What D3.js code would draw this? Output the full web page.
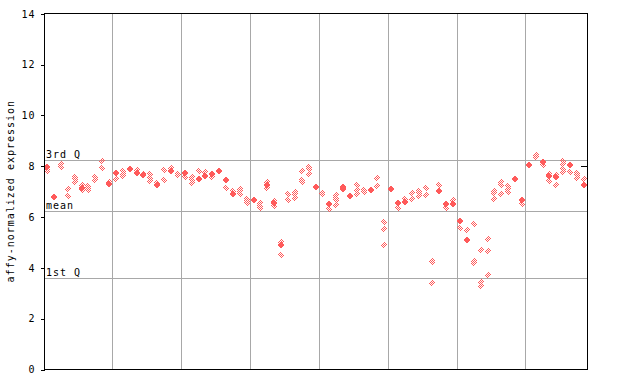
<!DOCTYPE html>
<html>
<head>
<meta charset="utf-8">
<script src="https://cdn.jsdelivr.net/npm/d3@7"></script>
<style>
  body { margin: 0; background: #fff; }
  text { font-family: "DejaVu Sans Mono", monospace; font-size: 10px; letter-spacing: 1px; fill: #000; }
</style>
</head>
<body>
<script>
// samples in groups of 10, separated by grey lines
const groupSizes = [10, 10, 10, 10, 10, 10, 10, 9];

// values drawn as solid diamonds, per sample
const filledVals = [
  [7.97], [6.78], [], [], [], [7.13], [], [], [], [7.28],
  [7.72], [], [7.89], [7.73], [7.62], [], [7.25], [], [7.8], [],
  [7.72], [], [7.48], [7.6], [7.68], [7.8], [7.44], [6.88], [], [],
  [6.65], [], [7.25], [6.52], [4.9], [], [], [], [], [7.17],
  [], [6.5], [], [7.17, 7.1], [6.81], [], [], [7.03], [], [],
  [7.09], [6.54], [6.58], [], [], [], [], [7.01], [6.5], [6.49],
  [5.83], [5.08], [], [], [], [], [], [], [7.48], [6.67],
  [8.02], [], [8.15], [7.58], [7.55], [], [8.03], [], [7.26]
];

// values drawn as checkered diamonds, per sample
const hatchedVals = [
  [7.85, 7.78], [], [8.05, 7.95], [7.08, 6.82], [7.56, 7.46, 7.37], [7.24, 7.05], [7.22, 7.13, 7.05], [7.55, 7.45], [8.19, 7.93], [7.37],
  [7.47], [7.79, 7.69, 7.6], [], [7.82], [7.69], [7.69, 7.5, 7.39], [7.34], [7.85, 7.42], [7.9], [7.69, 7.62],
  [7.54], [7.54, 7.43, 7.34], [7.81], [7.76], [7.56], [], [7.14], [7.0], [7.09, 6.99, 6.89], [6.71, 6.62, 6.53],
  [], [6.54, 6.42, 6.32], [7.35, 7.12], [6.61, 6.41], [4.98, 4.47], [6.87, 6.65], [6.97, 6.87, 6.74], [7.79, 7.42, 7.35], [7.97, 7.89, 7.69], [],
  [6.93, 6.87], [6.28], [6.84, 6.75, 6.67, 6.45], [], [], [7.24, 7.04, 6.87], [7.03, 6.96], [], [7.5, 7.22], [5.78, 5.51, 4.89],
  [], [6.33], [6.71], [6.92, 6.71], [7.01, 6.92, 6.8], [7.12, 6.83], [4.26, 4.2, 3.37], [7.24], [6.32], [6.67],
  [5.53], [5.49], [5.69, 4.26, 4.18], [4.67, 3.41, 3.28], [5.1, 4.63, 3.7], [7.0, 6.91, 6.71], [7.37, 7.26, 6.87], [7.21, 7.08, 6.97], [], [6.48],
  [], [8.43, 8.34], [8.02], [7.67, 7.41], [7.63, 7.26], [8.19, 8.07, 7.89, 7.76], [7.76], [7.73, 7.63, 7.5], [7.46]
];

const refLines = [
  { label: "3rd Q", value: 8.21 },
  { label: "mean", value: 6.21 },
  { label: "1st Q", value: 3.6 }
];
const yTicks = [0, 2, 4, 6, 8, 10, 12, 14];

const red = "#ff5a5a";
const plotLeft = 44, plotRight = 587, plotTop = 13.3, plotBottom = 369;
const nSamples = d3.sum(groupSizes);

const svg = d3.select("body").append("svg")
  .attr("width", 640)
  .attr("height", 384)
  .attr("shape-rendering", "crispEdges");

// checker pattern for the open diamonds
const pat = svg.append("defs").append("pattern")
  .attr("id", "checker")
  .attr("patternUnits", "userSpaceOnUse")
  .attr("width", 2).attr("height", 2);
pat.append("rect").attr("x", 0).attr("y", 0).attr("width", 1).attr("height", 1).attr("fill", red);
pat.append("rect").attr("x", 1).attr("y", 1).attr("width", 1).attr("height", 1).attr("fill", red);

const x = d3.scaleLinear().domain([-0.45, nSamples - 1 + 0.45]).range([plotLeft, plotRight]);
const y = d3.scaleLinear().domain([0, 14]).range([plotBottom, plotTop]);

// group separators
let breaks = [];
let acc = 0;
groupSizes.slice(0, -1).forEach(s => { acc += s; breaks.push(acc - 0.5); });
svg.selectAll(".vgrid").data(breaks).enter().append("line")
  .attr("x1", d => Math.round(x(d)) + 0.5).attr("x2", d => Math.round(x(d)) + 0.5)
  .attr("y1", plotTop).attr("y2", plotBottom)
  .attr("stroke", "#a8a8a8").attr("stroke-width", 1);

// quartile / mean lines
svg.selectAll(".ref").data(refLines).enter().append("line")
  .attr("x1", plotLeft).attr("x2", plotRight)
  .attr("y1", d => Math.round(y(d.value)) + 0.5).attr("y2", d => Math.round(y(d.value)) + 0.5)
  .attr("stroke", "#a8a8a8").attr("stroke-width", 1);

// points
function diamond(cx, cy, r) {
  return `M${cx},${cy - r}L${cx + r},${cy}L${cx},${cy + r}L${cx - r},${cy}Z`;
}
let hPts = [], fPts = [];
hatchedVals.forEach((vals, i) => vals.forEach(v => hPts.push({ i: i, v: v })));
filledVals.forEach((vals, i) => vals.forEach(v => fPts.push({ i: i, v: v })));

svg.selectAll(".hp").data(hPts).enter().append("path")
  .attr("d", d => diamond(Math.round(x(d.i)), Math.round(y(d.v)), 3.5))
  .attr("fill", "url(#checker)");
svg.selectAll(".fp").data(fPts).enter().append("path")
  .attr("d", d => diamond(Math.round(x(d.i)), Math.round(y(d.v)), 3.5))
  .attr("fill", red);

svg.selectAll(".reflabel").data(refLines).enter().append("text")
  .attr("x", plotLeft + 2)
  .attr("y", d => Math.round(y(d.value)) - 2)
  .text(d => d.label);

// frame
svg.append("rect")
  .attr("x", plotLeft + 0.5).attr("y", plotTop + 0.5)
  .attr("width", plotRight - plotLeft).attr("height", plotBottom - plotTop)
  .attr("fill", "none").attr("stroke", "#000");

// y axis
const yAxis = d3.axisLeft(y).tickValues(yTicks).tickSize(4).tickPadding(5);
const ga = svg.append("g")
  .attr("transform", "translate(" + (plotLeft + 0.5) + ",0.5)")
  .call(yAxis);
ga.select(".domain").remove();
ga.selectAll("text")
  .style("font-family", "DejaVu Sans Mono, monospace")
  .style("font-size", "10px")
  .style("letter-spacing", "1px");

// small inner tick on right side
svg.append("line")
  .attr("x1", plotRight - 6).attr("x2", plotRight)
  .attr("y1", Math.round(y(8)) + 0.5).attr("y2", Math.round(y(8)) + 0.5)
  .attr("stroke", "#000");

svg.append("text")
  .attr("transform", "translate(14," + ((plotTop + plotBottom) / 2) + ")rotate(-90)")
  .attr("text-anchor", "middle")
  .text("affy-normalized expression");
</script>
</body>
</html>
